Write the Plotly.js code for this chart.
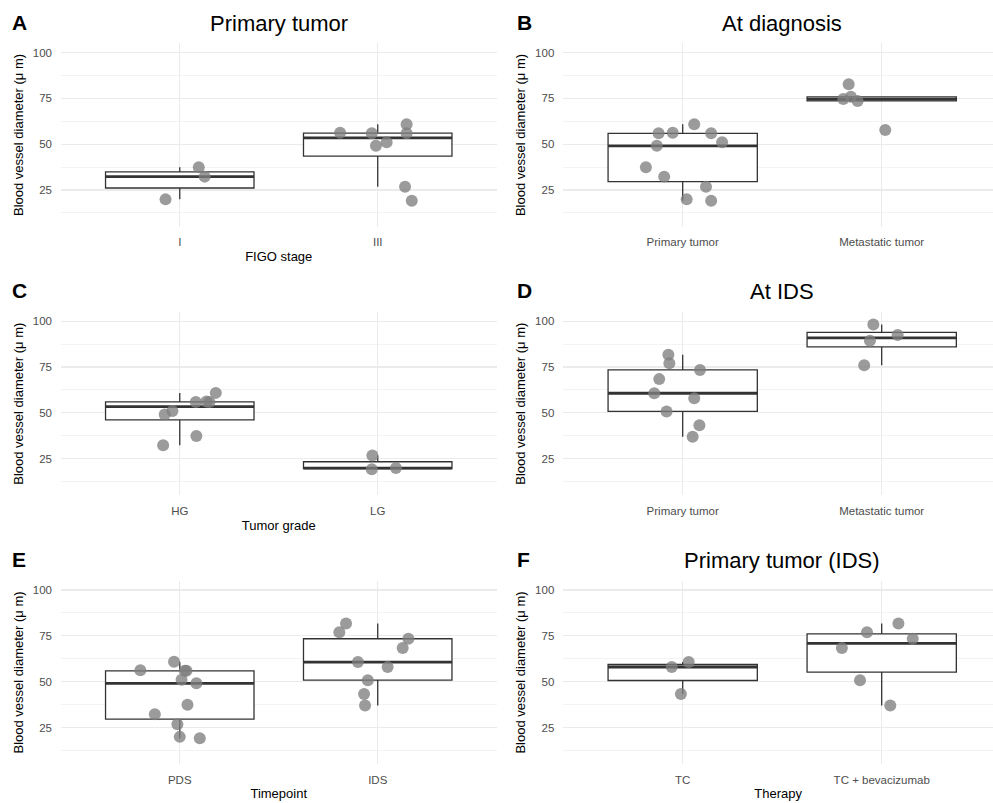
<!DOCTYPE html>
<html>
<head>
<meta charset="utf-8">
<script src="https://cdn.plot.ly/plotly-3.0.1.min.js"></script>
<style>html,body{margin:0;padding:0;background:#fff;} #chart{width:993px;height:803px;}</style>
</head>
<body>
<div id="chart"></div>
<script>
// ---------- data ----------
// Y tick labels
const yTicks = [25, 50, 75, 100];
const yMinorTicks = [12.5, 37.5, 62.5, 87.5];

// Panel A: Primary tumor by FIGO stage
const catsA = ['I', 'III'];
const stageI = [19.9, 37.4, 32.3];
const stageIJit = [-0.072, 0.096, 0.126];
const stageIII = [56.2, 55.9, 49.1, 51.0, 60.9, 55.9, 26.8, 19.2];
const stageIIIJit = [-0.19, -0.03, -0.009, 0.045, 0.146, 0.146, 0.138, 0.172];

// Panel B: At diagnosis
const catsB = ['Primary tumor', 'Metastatic tumor'];
const diagPrimary = [55.9, 56.2, 60.9, 55.9, 51.0, 49.1, 37.4, 32.3, 26.8, 19.9, 19.2];
const diagPrimaryJit = [-0.121, -0.05, 0.058, 0.143, 0.198, -0.13, -0.185, -0.093, 0.117, 0.02, 0.143];
const diagMeta = [82.7, 75.8, 74.6, 73.6, 57.7];
const diagMetaJit = [-0.166, -0.155, -0.193, -0.121, 0.018];

// Panel C: Tumor grade
const catsC = ['HG', 'LG'];
const gradeHG = [60.9, 55.9, 56.2, 55.9, 51.0, 49.1, 37.4, 32.3];
const gradeHGJit = [0.182, 0.081, 0.135, 0.15, -0.037, -0.076, 0.084, -0.084];
const gradeLG = [26.8, 19.2, 19.9];
const gradeLGJit = [-0.027, -0.03, 0.092];

// Panel D: At IDS
const catsD = ['Primary tumor', 'Metastatic tumor'];
const idsPrimary = [81.7, 77.0, 73.4, 68.4, 60.7, 58.0, 50.8, 43.3, 37.0];
const idsPrimaryJit = [-0.072, -0.067, 0.087, -0.118, -0.143, 0.058, -0.081, 0.084, 0.05];
const idsMeta = [98.2, 92.4, 89.3, 76.0];
const idsMetaJit = [-0.042, 0.08, -0.059, -0.088];

// Panel E: Timepoint
const catsE = ['PDS', 'IDS'];
const timePDS = [56.2, 60.9, 55.9, 55.9, 51.0, 49.1, 37.4, 32.3, 26.8, 19.9, 19.2];
const timePDSJit = [-0.199, -0.029, 0.025, 0.034, 0.009, 0.084, 0.039, -0.126, -0.012, 0.0, 0.101];
const timeIDS = [81.7, 77.0, 73.4, 68.4, 60.7, 58.0, 50.8, 43.3, 37.0];
const timeIDSJit = [-0.16, -0.194, 0.155, 0.126, -0.10, 0.05, -0.05, -0.069, -0.064];

// Panel F: Therapy (primary tumor at IDS)
const catsF = ['TC', 'TC + bevacizumab'];
const therTC = [58.0, 60.7, 43.3];
const therTCJit = [-0.055, 0.03, -0.009];
const therBev = [81.7, 77.0, 73.4, 68.4, 50.8, 37.0];
const therBevJit = [0.084, -0.074, 0.156, -0.2, -0.109, 0.043];

const yTitle = 'Blood vessel diameter (\u03bc m)';

// ---------- layout geometry ----------
const W = 993, H = 803;
const colX = [[61, 496.5], [563.3, 993]];
const colRange = [[0.4, 2.6], [0.4, 0.4 + (993 - 563.3) / 199]];
const rowTop = [43.3, 312.0, 580.8];
const plotH = 183.4;

const panels = [
  {letter: 'A', title: 'Primary tumor', xtitle: 'FIGO stage', row: 0, col: 0, cats: catsA,
   groups: [[stageI, stageIJit], [stageIII, stageIIIJit]]},
  {letter: 'B', title: 'At diagnosis', xtitle: '', row: 0, col: 1, cats: catsB,
   groups: [[diagPrimary, diagPrimaryJit], [diagMeta, diagMetaJit]]},
  {letter: 'C', title: '', xtitle: 'Tumor grade', row: 1, col: 0, cats: catsC,
   groups: [[gradeHG, gradeHGJit], [gradeLG, gradeLGJit]]},
  {letter: 'D', title: 'At IDS', xtitle: '', row: 1, col: 1, cats: catsD,
   groups: [[idsPrimary, idsPrimaryJit], [idsMeta, idsMetaJit]]},
  {letter: 'E', title: '', xtitle: 'Timepoint', row: 2, col: 0, cats: catsE,
   groups: [[timePDS, timePDSJit], [timeIDS, timeIDSJit]]},
  {letter: 'F', title: 'Primary tumor (IDS)', xtitle: 'Therapy', row: 2, col: 1, cats: catsF,
   groups: [[therTC, therTCJit], [therBev, therBevJit]]}
];

// R type-7 quantile and Tukey whiskers (like ggplot2's stat_boxplot)
function q7(s, p) {
  const h = (s.length - 1) * p, lo = Math.floor(h), hi = Math.ceil(h);
  return s[lo] + (h - lo) * (s[hi] - s[lo]);
}
function boxStats(v) {
  const s = v.slice().sort((a, b) => a - b);
  const q1 = q7(s, 0.25), med = q7(s, 0.5), q3 = q7(s, 0.75), iqr = q3 - q1;
  const inside = s.filter(d => d >= q1 - 1.5 * iqr && d <= q3 + 1.5 * iqr);
  return {q1, med, q3, lo: Math.min(...inside), hi: Math.max(...inside)};
}

const traces = [];
const layout = {
  width: W, height: H,
  margin: {l: 0, r: 0, t: 0, b: 0},
  paper_bgcolor: '#fff', plot_bgcolor: '#fff',
  showlegend: false,
  hovermode: false,
  font: {family: 'Liberation Sans, Arial, sans-serif', color: '#000'},
  annotations: []
};

const LINE = '#333333';
const PT = 'rgba(127,127,127,0.78)';

panels.forEach((p, i) => {
  const n = i + 1;
  const xa = 'x' + (n === 1 ? '' : n), ya = 'y' + (n === 1 ? '' : n);
  const xk = 'xaxis' + (n === 1 ? '' : n), yk = 'yaxis' + (n === 1 ? '' : n);
  const cx = colX[p.col];
  const top = rowTop[p.row], bot = top + plotH;
  layout[xk] = {
    domain: [cx[0] / W, cx[1] / W], anchor: ya,
    range: colRange[p.col], tickmode: 'array', tickvals: [1, 2], ticktext: p.cats,
    showgrid: true, gridcolor: '#ebebeb', gridwidth: 1.2, zeroline: false, showline: false,
    ticks: '', ticklabelstandoff: 7,
    tickfont: {size: 11.5, color: '#4d4d4d'},
    title: {text: p.xtitle, font: {size: 13, color: '#000'}, standoff: 4},
    fixedrange: true
  };
  layout[yk] = {
    domain: [1 - bot / H, 1 - top / H], anchor: xa,
    range: [5, 105], tickmode: 'array', tickvals: yTicks,
    showgrid: true, gridcolor: '#ebebeb', gridwidth: 1.2, zeroline: false, showline: false,
    minor: {tickmode: 'array', tickvals: yMinorTicks, showgrid: true, gridcolor: '#f0f0f0', gridwidth: 0.8, ticks: ''},
    ticks: '', ticklabelstandoff: 8,
    tickfont: {size: 11.5, color: '#4d4d4d'},
    title: {text: yTitle, font: {size: 13, color: '#000'}, standoff: 6},
    fixedrange: true
  };

  p.groups.forEach((g, gi) => {
    const pos = gi + 1;
    const st = boxStats(g[0]);
    traces.push({
      type: 'box', xaxis: xa, yaxis: ya, x: [pos],
      q1: [st.q1], median: [st.med], q3: [st.q3], lowerfence: [st.lo], upperfence: [st.hi],
      width: 0.75, whiskerwidth: 0, boxpoints: false,
      fillcolor: '#ffffff', line: {color: LINE, width: 1.3}
    });
    // thicker median line (ggplot fatten = 2)
    traces.push({
      type: 'box', xaxis: xa, yaxis: ya, x: [pos],
      q1: [st.med], median: [st.med], q3: [st.med], lowerfence: [st.med], upperfence: [st.med],
      width: 0.75, whiskerwidth: 0, boxpoints: false,
      fillcolor: 'rgba(0,0,0,0)', line: {color: LINE, width: 2.8}
    });
    traces.push({
      type: 'scatter', mode: 'markers', xaxis: xa, yaxis: ya,
      x: g[1].map(j => pos + j), y: g[0],
      marker: {size: 12, color: PT, line: {width: 0}}
    });
  });

  const rowOff = [0, 268.4, 537.4][p.row];
  // panel letter
  layout.annotations.push({
    text: '<b>' + p.letter + '</b>', xref: 'paper', yref: 'paper',
    x: (p.col === 0 ? 10 : 515) / W, y: 1 - (22.5 + rowOff) / H,
    xanchor: 'left', yanchor: 'middle', showarrow: false,
    font: {size: 21, color: '#000'}
  });
  if (p.title) {
    const plotCenterPx = p.col === 0 ? (cx[0] + cx[1]) / 2 : 563.3 + 1.1 * 199;
    layout.annotations.push({
      text: p.title, xref: 'paper', yref: 'paper',
      x: plotCenterPx / W, y: 1 - (23.5 + rowOff) / H,
      xanchor: 'center', yanchor: 'middle', showarrow: false,
      font: {size: 22, color: '#000'}
    });
  }
});

Plotly.newPlot('chart', traces, layout, {staticPlot: true, displayModeBar: false});
</script>
</body>
</html>
